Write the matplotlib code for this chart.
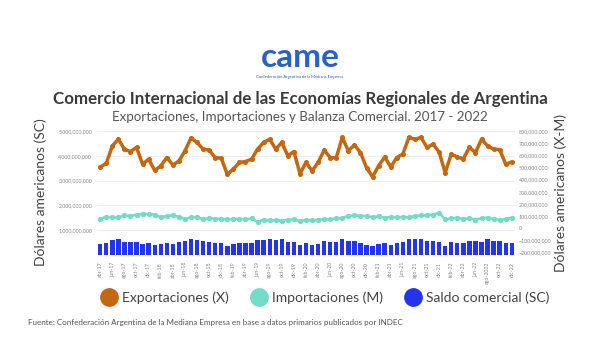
import matplotlib.pyplot as plt
import matplotlib.ticker as mticker
from matplotlib.lines import Line2D
import numpy as np

plt.rcParams['font.family'] = ['Lato', 'DejaVu Sans']

# monthly values, abr-2017 .. dic-2022 (USD billions)
exportaciones = [3.55, 3.69, 4.40, 4.67, 4.27, 4.17, 4.34, 3.66, 3.86, 3.41, 3.59, 3.93,
                 3.63, 3.79, 4.20, 4.72, 4.54, 4.27, 4.23, 3.93, 3.90, 3.25, 3.46, 3.73,
                 3.77, 3.86, 4.27, 4.54, 4.67, 4.27, 4.54, 4.00, 4.17, 3.28, 3.73, 3.39,
                 3.73, 4.23, 3.93, 3.93, 4.74, 4.20, 4.44, 4.13, 3.52, 3.15, 3.60, 3.95,
                 3.55, 3.93, 4.07, 4.74, 4.67, 4.74, 4.34, 4.47, 4.15, 3.32, 4.07, 3.95,
                 3.88, 4.34, 4.13, 4.67, 4.40, 4.27, 4.25, 3.66, 3.75]
importaciones = [1.46, 1.54, 1.51, 1.51, 1.59, 1.57, 1.63, 1.65, 1.65, 1.63, 1.51, 1.57,
                 1.59, 1.54, 1.46, 1.51, 1.54, 1.43, 1.49, 1.46, 1.46, 1.43, 1.45, 1.46,
                 1.43, 1.47, 1.33, 1.42, 1.39, 1.40, 1.38, 1.42, 1.44, 1.36, 1.41, 1.40,
                 1.41, 1.44, 1.43, 1.47, 1.49, 1.57, 1.59, 1.58, 1.56, 1.52, 1.55, 1.50,
                 1.53, 1.52, 1.53, 1.52, 1.56, 1.59, 1.60, 1.63, 1.70, 1.43, 1.47, 1.50,
                 1.45, 1.48, 1.42, 1.48, 1.50, 1.44, 1.42, 1.44, 1.50]
saldo = [0.43, 0.47, 0.61, 0.65, 0.54, 0.54, 0.54, 0.43, 0.46, 0.38, 0.43, 0.47,
         0.43, 0.52, 0.57, 0.65, 0.61, 0.57, 0.54, 0.49, 0.49, 0.35, 0.43, 0.46,
         0.46, 0.47, 0.60, 0.61, 0.65, 0.61, 0.63, 0.54, 0.54, 0.38, 0.46, 0.41,
         0.43, 0.57, 0.52, 0.54, 0.65, 0.57, 0.57, 0.47, 0.41, 0.34, 0.43, 0.47,
         0.41, 0.47, 0.54, 0.64, 0.64, 0.64, 0.57, 0.57, 0.52, 0.34, 0.52, 0.47,
         0.47, 0.57, 0.57, 0.54, 0.64, 0.57, 0.57, 0.46, 0.46]
tick_labels = ['abr-17', 'jun-17', 'ago-17', 'oct-17', 'dic-17', 'feb-18', 'abr-18', 'jun-18',
               'ago-18', 'oct-18', 'dic-18', 'feb-19', 'abr-19', 'jun-19', 'ago-19', 'oct-19',
               'dic-19', 'feb-20', 'abr-20', 'jun-20', 'ago-20', 'oct-20', 'dic-20', 'feb-21',
               'abr-21', 'jun-21', 'ago-21', 'oct-21', 'dic-21', 'feb-22', 'abr-22', 'jun-22',
               'ago-2022', 'oct-22', 'dic-22']

c_exp = '#c4670f'
c_imp = '#72dcc4'
c_sal = '#2234ee'

x = np.arange(len(exportaciones))
exp_v = np.array(exportaciones) * 1e9
imp_v = np.array(importaciones) * 1e9
sal_v = np.array(saldo) * 1e9

fig = plt.figure(figsize=(6, 3.6), dpi=100)
ax = fig.add_axes([0.162, 0.292, 0.696, 0.344])

ax.bar(x, sal_v, width=0.72, color=c_sal, zorder=2)
ax.plot(x, imp_v, color=c_imp, lw=1.8, marker='o', ms=2.8, zorder=3)
ax.plot(x, exp_v, color=c_exp, lw=2.5, marker='o', ms=2.6, zorder=4)

ax.set_xlim(-0.5, len(x) - 0.5)
ax.set_ylim(0, 5e9)
ax.set_yticks([1e9, 2e9, 3e9, 4e9, 5e9])
ax.yaxis.set_major_formatter(mticker.StrMethodFormatter('{x:,.0f}'))
ax.set_xticks(x[::2])
ax.set_xticklabels(tick_labels, rotation=90)
ax.grid(axis='y', color='#ececec', lw=0.6, zorder=0)
ax.set_axisbelow(True)
ax.tick_params(axis='both', length=0, labelsize=3.8, colors='#888888')
ax.tick_params(axis='x', pad=5)
for s in ax.spines.values():
    s.set_visible(False)

ax2 = ax.twinx()
ax2.set_ylim(-219e6, 800e6)
ax2.set_yticks(np.arange(-200e6, 801e6, 100e6))
ax2.yaxis.set_major_formatter(mticker.StrMethodFormatter('{x:,.0f}'))
ax2.tick_params(axis='y', length=0, labelsize=3.8, colors='#888888', pad=3)
for s in ax2.spines.values():
    s.set_visible(False)

fig.text(0.068, 0.465, 'Dólares americanos (SC)', rotation=90, ha='center', va='center',
         fontsize=10, color='#444444')
fig.text(0.935, 0.465, 'Dólares americanos (X-M)', rotation=90, ha='center', va='center',
         fontsize=10, color='#444444')

# logo and titles
fig.text(0.5, 0.84, 'came', ha='center', va='center', fontsize=24, fontweight='bold',
         color='#2a62c4')
fig.text(0.5, 0.785, 'Confederación Argentina de la Mediana Empresa', ha='center',
         va='center', fontsize=3, color='#2a62c4')
fig.text(0.5, 0.725, 'Comercio Internacional de las Economías Regionales de Argentina',
         ha='center', va='center', fontsize=12.2, fontweight='bold', color='#3a3a3a')
fig.text(0.5, 0.675, 'Exportaciones, Importaciones y Balanza Comercial. 2017 - 2022',
         ha='center', va='center', fontsize=9.6, color='#555555')

handles = [Line2D([], [], ls='none', marker='o', ms=12.5, color=c)
           for c in (c_exp, c_imp, c_sal)]
fig.legend(handles, ['Exportaciones (X)', 'Importaciones (M)', 'Saldo comercial (SC)'],
           loc='center', bbox_to_anchor=(0.542, 0.172), ncol=3, frameon=False,
           fontsize=10, labelcolor='#444444', handletextpad=0.3, columnspacing=1.6,
           handlelength=1.2)

fig.text(0.047, 0.105, 'Fuente: Confederación Argentina de la Mediana Empresa en base a datos '
         'primarios publicados por INDEC', ha='left', va='center', fontsize=5.8,
         color='#555555')

fig.savefig('out.png', dpi=100, facecolor='white')
